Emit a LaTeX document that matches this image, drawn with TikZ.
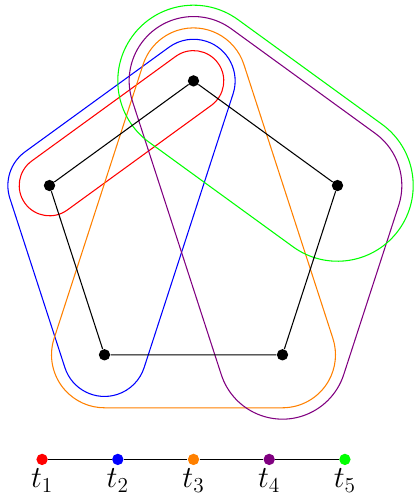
\documentclass[tikz,border=0pt]{standalone}
\definecolor{hpurple}{RGB}{128,0,128}
\definecolor{hgreen}{RGB}{0,255,0}
\definecolor{horange}{RGB}{255,128,0}
\begin{document}
\begin{tikzpicture}[
  vtx/.style={circle,fill=black,inner sep=0pt,minimum size=6.4pt},
  tdot/.style={circle,fill=#1,inner sep=0pt,minimum size=6.4pt},
  hull/.style={line width=0.6pt},
  pline/.style={line width=0.6pt},
  every label/.style={font=\LARGE,inner sep=1.8pt}
]
\useasboundingbox (-3.834,-5.205) rectangle (4.428,4.603);
% pentagon vertices
\coordinate (cT) at (90:3);
\coordinate (cL) at (162:3);
\coordinate (cBL) at (234:3);
\coordinate (cBR) at (306:3);
\coordinate (cR) at (18:3);
% hyperedges
\draw[hull,red] ([shift={(126:0.6)}]cT) -- ([shift={(126:0.6)}]cL)
  arc[start angle=126,end angle=306,radius=0.6] -- ([shift={(306:0.6)}]cT)
  arc[start angle=-54,end angle=126,radius=0.6] -- cycle;
\draw[hull,blue] ([shift={(126:0.825)}]cT) -- ([shift={(126:0.825)}]cL)
  arc[start angle=126,end angle=198,radius=0.825] -- ([shift={(198:0.825)}]cBL)
  arc[start angle=198,end angle=342,radius=0.825] -- ([shift={(342:0.825)}]cT)
  arc[start angle=-18,end angle=126,radius=0.825] -- cycle;
\draw[hull,horange] ([shift={(162:1.05)}]cT) -- ([shift={(162:1.05)}]cBL)
  arc[start angle=162,end angle=270,radius=1.05] -- ([shift={(270:1.05)}]cBR)
  arc[start angle=270,end angle=378,radius=1.05] -- ([shift={(18:1.05)}]cT)
  arc[start angle=18,end angle=162,radius=1.05] -- cycle;
\draw[hull,hpurple] ([shift={(54:1.275)}]cR) -- ([shift={(54:1.275)}]cT)
  arc[start angle=54,end angle=198,radius=1.275] -- ([shift={(198:1.275)}]cBR)
  arc[start angle=198,end angle=342,radius=1.275] -- ([shift={(342:1.275)}]cR)
  arc[start angle=-18,end angle=54,radius=1.275] -- cycle;
\draw[hull,hgreen] ([shift={(54:1.5)}]cR) -- ([shift={(54:1.5)}]cT)
  arc[start angle=54,end angle=234,radius=1.5] -- ([shift={(234:1.5)}]cR)
  arc[start angle=234,end angle=414,radius=1.5] -- cycle;
% vertex nodes
\node[vtx] (T) at (cT) {};
\node[vtx] (L) at (cL) {};
\node[vtx] (BL) at (cBL) {};
\node[vtx] (BR) at (cBR) {};
\node[vtx] (R) at (cR) {};
\draw[pline] (T) -- (L) -- (BL) -- (BR) -- (R) -- (T);
% timeline
\node[tdot=red,label=below:$t_1$] (t1) at (-3,-4.5) {};
\node[tdot=blue,label=below:$t_2$] (t2) at (-1.5,-4.5) {};
\node[tdot=horange,label=below:$t_3$] (t3) at (0,-4.5) {};
\node[tdot=hpurple,label=below:$t_4$] (t4) at (1.5,-4.5) {};
\node[tdot=hgreen,label=below:$t_5$] (t5) at (3,-4.5) {};
\draw[pline] (t1) -- (t2) -- (t3) -- (t4) -- (t5);
\end{tikzpicture}
\end{document}
